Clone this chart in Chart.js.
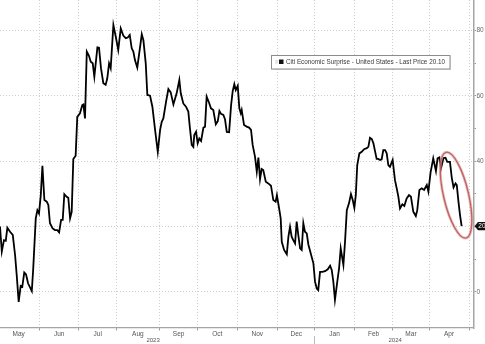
<!DOCTYPE html>
<html><head><meta charset="utf-8">
<script src="https://cdn.jsdelivr.net/npm/chart.js@4.4.1/dist/chart.umd.min.js"></script>
<style>html,body{margin:0;padding:0;background:#fff;overflow:hidden}#wrap{width:485px;height:344px;position:relative}</style>
</head><body><div id="wrap"><canvas id="c" width="485" height="344"></canvas></div>
<script>
// x = trading-day index counted from 1 May 2023; y = index level
const dayIndex = [1.1,2.1,3.3,4.3,5.2,6.7,8.2,9.5,10.4,11.5,
12.6,13.5,14.6,15.6,16.7,18.8,19.6,21.0,21.9,22.8,
23.8,24.7,25.8,27.1,28.0,28.9,30.4,31.7,33.0,34.0,
35.1,36.0,36.9,38.2,39.1,40.1,41.0,41.9,43.2,44.1,
45.6,46.9,47.5,48.4,49.4,50.6,51.6,52.7,53.6,55.3,
56.2,57.3,58.6,59.9,60.8,61.8,62.7,64.2,65.5,66.9,
68.3,69.7,71.1,72.2,73.3,74.4,75.3,76.2,77.5,80.0,
80.9,82.2,83.1,84.6,85.9,87.4,88.9,90.2,91.1,92.0,
93.5,94.8,96.1,97.6,99.4,100.9,101.7,103.1,104.6,105.9,
106.8,107.8,108.7,109.2,110.2,111.1,112.0,113.0,114.3,115.2,
116.1,117.4,118.5,119.8,121.2,122.3,123.2,124.1,125.4,126.3,
127.3,128.6,129.7,130.6,131.5,132.3,133.4,134.3,135.1,135.6,
136.9,138.4,139.7,140.8,141.7,143.0,144.0,144.9,145.8,146.7,
147.6,149.0,150.4,151.9,153.2,154.5,155.2,156.4,157.3,157.9,
159.2,160.7,161.6,162.5,163.4,164.3,165.3,166.2,167.1,168.1,
169.0,169.9,170.8,171.8,172.7,174.0,175.5,176.4,177.4,178.2,
179.2,180.5,182.0,183.5,184.8,185.7,186.6,187.5,188.8,189.8,
190.7,192.2,193.1,194.1,195.3,196.4,197.4,198.3,199.1,199.9,
201.1,202.4,203.7,205.2,206.1,207.0,208.0,208.9,209.8,210.7,
211.6,212.6,213.5,214.4,215.4,216.3,217.2,218.1,219.6,220.9,
221.9,222.8,223.7,225.0,226.1,227.4,228.7,229.8,231.1,232.5,
233.3,234.5,235.8,237.1,238.6,239.5,240.7,242.2,243.7,244.6,
245.6,246.5,247.9,249.0,250.0,251.5,252.5,253.5,254.6,255.3,
256.2,257.1,258.0];
const surprise = [20,12.3,15.8,15.6,19.6,18.4,17.4,11.2,5.1,-3.1,
1.8,1.5,5.9,5.3,2.6,0.2,7.2,22.5,25,24,
29.6,38.6,28.1,27.6,26.6,21,19.4,18.9,18.9,18.2,
22,22,29.9,29.1,28.8,22.5,24.5,40.7,41.7,53.6,
54.7,57.2,57.4,53.1,73.6,72.3,70.5,70,65.9,74.9,
74.8,68.5,63.9,63.4,65.4,70,68.5,81.7,78.2,74.1,
80.7,78.5,77.7,77.9,78.7,74.6,73.6,71,68.7,78.9,
77.1,70,60.3,60.1,56.7,49.6,42.9,49.6,52.1,53.1,
58.2,62.1,61.1,57.4,60.8,64.9,60.8,57.7,56.7,55.2,
50.1,45,44.4,48,49,45.5,47,46.2,50.3,50.6,
59.8,58,56.2,55.7,51.3,52.3,55.4,54.5,54.2,52.9,
49,48.9,57.2,61.5,63.6,61.8,63.1,56.2,54.7,55.7,
51.1,50.6,50.3,49.6,45,41.4,36.8,41.1,34.5,37.6,
37.3,33.7,33.2,32.5,28.1,27.6,29.6,25.6,22.5,15.3,
12.8,11.5,16.9,19.9,16.9,15.8,14.8,21.5,17.4,13.3,
12.8,21,18.4,17.9,14.5,11.8,8.7,3.1,1,0.5,
6.1,6.1,6.3,6.9,8,6.7,3.1,-2.5,3.1,7.2,
13.3,8.2,15.3,25,27.1,29.9,28.1,25.7,29.6,38.8,
42.4,42.9,43.7,44,44.4,47.2,46.8,45.5,43.1,40.7,
40.7,40.4,40.6,43.4,43.4,42.4,38.8,38.3,40.4,34.2,
31.6,29.1,25.5,26.8,26.3,28.6,29.6,29.1,24.5,23.2,
25,31.2,31.7,31.2,32.7,30.7,36.5,40.9,37,40.9,
41.2,37.8,41,41.1,39.8,39.8,35,32,33.2,32.7,
27.8,23.5,20.1];
const monthStarts = [23,45,66,90,111,133,155.5,176,198.5,219.5,240,262.5];
const monthMids = [11.5,34,55.5,77.8,100.5,122,144.3,166,187.3,209,229.8,251];
const monthLabels = ['May','Jun','Jul','Aug','Sep','Oct','Nov','Dec','Jan','Feb','Mar','Apr'];
const yearLabels = ['2023','2024'];
const yearMids = [86.3,221];
const yTicks = [0,10,20,30,40,50,60,70,80];
const seriesName = 'Citi Economic Surprise - United States - Last Price';
const lastPrice = 20.10;

const FONT = 'Liberation Sans';
const GRID = '#cdcdcd';
const DASH = [1,2];

const overlay = {
  id:'overlay',
  afterDraw(chart){
    const ctx = chart.ctx, xs = chart.scales.x, ys = chart.scales.y, ca = chart.chartArea;
    ctx.save();
    // year labels
    ctx.fillStyle = '#555';
    ctx.font = '6px "'+FONT+'"';
    ctx.textAlign = 'center'; ctx.textBaseline = 'middle';
    yearLabels.forEach((t,i)=>ctx.fillText(t, xs.getPixelForValue(yearMids[i]), 340));
    // year separator
    const sx = Math.round(xs.getPixelForValue(monthStarts[7]))+0.5;
    ctx.strokeStyle = '#bbb'; ctx.lineWidth = 1; ctx.setLineDash([]);
    ctx.beginPath(); ctx.moveTo(sx, 336); ctx.lineTo(sx, 344); ctx.stroke();

    // legend box
    const bx = 271.5, by = 55.5, bw = 178.5, bh = 13.5;
    ctx.fillStyle = 'rgba(0,0,0,0.12)'; ctx.fillRect(bx+1, by+1, bw, bh);
    ctx.fillStyle = '#fff'; ctx.fillRect(bx, by, bw, bh);
    ctx.strokeStyle = '#8c8c8c'; ctx.lineWidth = 1; ctx.strokeRect(bx, by, bw, bh);
    ctx.fillStyle = '#c4c4c4'; ctx.fillRect(275,60.5,3,0.8); ctx.fillRect(275,62.5,3,0.8);
    ctx.fillStyle = '#111'; ctx.fillRect(279,59.5,4.5,4.5);
    const text = seriesName + ' ' + lastPrice.toFixed(2);
    ctx.font = '7px "'+FONT+'"';
    const w = ctx.measureText(text).width;
    const fs = 7*159/w;
    ctx.font = fs.toFixed(2)+'px "'+FONT+'"';
    ctx.fillStyle = '#3a3a3a'; ctx.textAlign = 'left'; ctx.textBaseline = 'middle';
    ctx.fillText(text, 286, 62.5);

    // last price tag
    const ty = ys.getPixelForValue(lastPrice);
    const tx = ca.right + 1;
    ctx.fillStyle = '#111';
    ctx.beginPath();
    ctx.moveTo(tx, ty); ctx.lineTo(tx+3.5, ty-4.2); ctx.lineTo(485, ty-4.2);
    ctx.lineTo(485, ty+4.2); ctx.lineTo(tx+3.5, ty+4.2); ctx.closePath(); ctx.fill();
    ctx.fillStyle = '#fff'; ctx.font = '6.5px "'+FONT+'"'; ctx.textAlign='left';
    ctx.fillText(String(Math.floor(lastPrice)), 478.3, ty+0.3);

    // red ellipse highlight
    const ex = xs.getPixelForValue(254.9), ey = ys.getPixelForValue(29.6);
    ctx.strokeStyle = 'rgba(214,150,150,0.55)'; ctx.lineWidth = 3;
    ctx.beginPath(); ctx.ellipse(ex, ey, 12.5, 44, -0.23, 0, Math.PI*2); ctx.stroke();
    ctx.strokeStyle = 'rgba(190,85,85,0.9)'; ctx.lineWidth = 1.3;
    ctx.beginPath(); ctx.ellipse(ex, ey, 12.5, 44, -0.23, 0, Math.PI*2); ctx.stroke();
    ctx.restore();
  }
};

new Chart(document.getElementById('c'), {
  type:'line',
  data:{ datasets:[{
    label: seriesName,
    data: dayIndex.map((x,i)=>({x:x, y:surprise[i]})),
    borderColor:'#000', borderWidth:1.8, pointRadius:0, tension:0, fill:false
  }]},
  options:{
    responsive:false, animation:false, devicePixelRatio:1,
    layout:{padding:0},
    plugins:{legend:{display:false}, tooltip:{enabled:false}},
    scales:{
      x:{
        type:'linear', min:1.1, max:264.6,
        afterBuildTicks:s=>{ s.ticks = monthStarts.concat(monthMids).sort((a,b)=>a-b).map(v=>({value:v})); },
        afterFit:s=>{ s.height = 16; s.paddingLeft = 0; s.paddingRight = 0; },
        ticks:{ autoSkip:false, maxRotation:0, minRotation:0, padding:0,
          callback:v=>{ const i = monthMids.indexOf(v); return i<0 ? '' : monthLabels[i]; },
          font:{family:FONT, size:6.5}, color:'#555' },
        grid:{ color:c=> (c.tick && monthStarts.includes(c.tick.value)) ? GRID : 'rgba(0,0,0,0)',
          tickColor:c=> (c.tick && monthStarts.includes(c.tick.value)) ? '#999' : 'rgba(0,0,0,0)',
          tickLength:2.5, tickBorderDash:[4,0], lineWidth:1 },
        border:{ display:true, color:'#a5a5a5', width:1.2, dash:DASH }
      },
      y:{
        type:'linear', position:'right', min:-11.1, max:89.4,
        afterBuildTicks:s=>{ s.ticks = yTicks.map(v=>({value:v})); },
        afterFit:s=>{ s.width = 11.5; s.paddingTop = 0; s.paddingBottom = 0; },
        ticks:{ autoSkip:false, padding:0.5,
          callback:v=> (v%20===0 && v!==20) ? String(v) : '',
          font:{family:FONT, size:6.5}, color:'#666' },
        grid:{ color:c=> (c.tick && c.tick.value%20===0) ? GRID : 'rgba(0,0,0,0)',
          tickColor:'#999', tickLength:2.5, tickBorderDash:[4,0], lineWidth:1 },
        border:{ display:true, color:'#a5a5a5', width:1.5, dash:DASH }
      }
    }
  },
  plugins:[overlay]
});
</script>
</body></html>
